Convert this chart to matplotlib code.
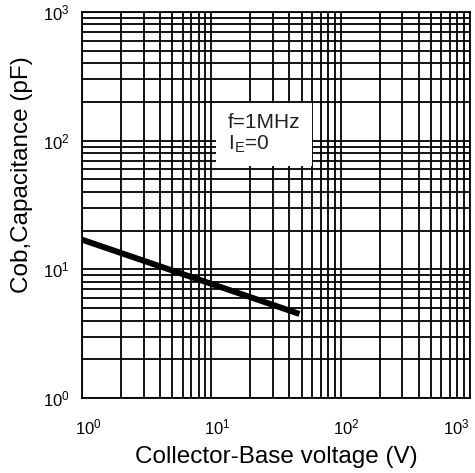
import matplotlib.pyplot as plt
import matplotlib.transforms as mtransforms
from matplotlib.ticker import LogLocator, NullFormatter

# Cob vs collector-base voltage
voltage = [1, 48]
capacitance = [17, 4.5]
x_ticks = [1, 10, 100, 1000]
y_ticks = [1, 10, 100, 1000]

plt.rcParams['font.family'] = ['Liberation Sans', 'DejaVu Sans']

fig = plt.figure(figsize=(4.75, 4.73), dpi=100)
ax = fig.add_axes([0.1726, 0.1586, 0.8169, 0.816])

ax.set_xscale('log')
ax.set_yscale('log')
ax.set_xlim(1, 1000)
ax.set_ylim(1, 1000)

ax.set_xticks(x_ticks)
ax.set_yticks(y_ticks)
ax.xaxis.set_minor_locator(LogLocator(base=10, subs=range(2, 10)))
ax.yaxis.set_minor_locator(LogLocator(base=10, subs=range(2, 10)))
ax.xaxis.set_minor_formatter(NullFormatter())
ax.yaxis.set_minor_formatter(NullFormatter())
ax.tick_params(which='both', length=0, labelsize=12)
ax.tick_params(axis='x', pad=14)
ax.tick_params(axis='y', pad=9)

# x labels sit a bit right of their ticks; last one kept inside the figure
shift = mtransforms.ScaledTranslation(6 / 100, 0, fig.dpi_scale_trans)
xlabels = ax.get_xticklabels()
for lab in xlabels[:-1]:
    lab.set_transform(lab.get_transform() + shift)
xlabels[-1].set_horizontalalignment('right')

ax.grid(True, which='both', color='black', linewidth=1.3)
ax.set_axisbelow(True)
for s in ax.spines.values():
    s.set_linewidth(1.3)

ax.plot(voltage, capacitance, color='black', linewidth=4.3, solid_capstyle='butt', zorder=3)

ax.text(0.376, 0.684, 'f=1MHz\nI$_\\mathregular{E}$=0', transform=ax.transAxes,
        fontsize=15, va='center', ha='left', linespacing=1.05, zorder=4,
        color='#222222',
        bbox=dict(facecolor='white', edgecolor='none',
                  boxstyle='square,pad=0.55'))

ax.set_xlabel('Collector-Base voltage (V)', fontsize=17.5)
ax.set_ylabel('Cob,Capacitance (pF)', fontsize=17.5)
ax.xaxis.set_label_coords(0.5, -0.125)
ax.yaxis.set_label_coords(-0.125, 0.578)

fig.savefig('out.png', dpi=100)
